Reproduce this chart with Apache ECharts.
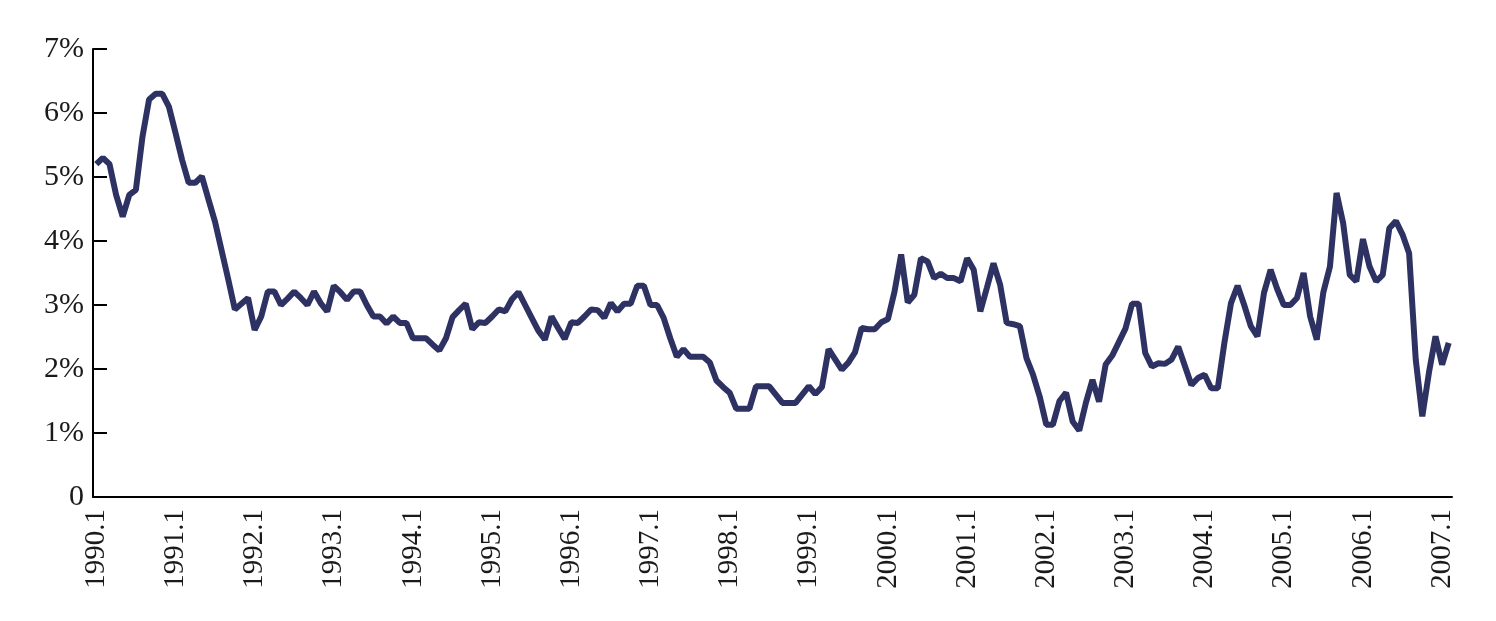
<!DOCTYPE html>
<html>
<head>
<meta charset="utf-8">
<script src="https://cdn.jsdelivr.net/npm/echarts@6/dist/echarts.min.js"></script>
<style>
  html, body { margin: 0; padding: 0; background: #fff; }
  #chart { width: 1496px; height: 621px; }
</style>
</head>
<body>
<div id="chart"></div>
<script>
// monthly rate, %
var v1990 = [5.2, 5.3, 5.2, 4.72, 4.38, 4.72, 4.8, 5.63, 6.21, 6.3, 6.3, 6.1];
var v1991 = [5.69, 5.27, 4.91, 4.91, 5.01, 4.65, 4.3, 3.85, 3.4, 2.93, 3.02, 3.11];
var v1992 = [2.61, 2.82, 3.21, 3.21, 3.0, 3.1, 3.21, 3.11, 3.0, 3.21, 3.03, 2.9];
var v1993 = [3.3, 3.2, 3.08, 3.21, 3.21, 3.0, 2.82, 2.82, 2.71, 2.82, 2.72, 2.72];
var v1994 = [2.48, 2.48, 2.48, 2.38, 2.29, 2.48, 2.81, 2.92, 3.02, 2.62, 2.73, 2.72];
var v1995 = [2.82, 2.93, 2.9, 3.09, 3.2, 3.0, 2.8, 2.6, 2.46, 2.82, 2.64, 2.47];
var v1996 = [2.73, 2.72, 2.82, 2.93, 2.92, 2.8, 3.03, 2.9, 3.02, 3.02, 3.3, 3.3];
var v1997 = [3.0, 3.0, 2.8, 2.48, 2.19, 2.31, 2.19, 2.19, 2.19, 2.1, 1.82, 1.72];
var v1998 = [1.63, 1.38, 1.38, 1.38, 1.73, 1.73, 1.73, 1.6, 1.47, 1.47, 1.47, 1.6];
var v1999 = [1.73, 1.61, 1.72, 2.31, 2.15, 1.99, 2.1, 2.26, 2.64, 2.62, 2.62, 2.73];
var v2000 = [2.78, 3.21, 3.79, 3.04, 3.16, 3.73, 3.68, 3.42, 3.49, 3.42, 3.42, 3.37];
var v2001 = [3.73, 3.55, 2.9, 3.27, 3.65, 3.32, 2.72, 2.7, 2.67, 2.17, 1.91, 1.57];
var v2002 = [1.13, 1.13, 1.5, 1.63, 1.18, 1.04, 1.47, 1.83, 1.49, 2.07, 2.21, 2.42];
var v2003 = [2.63, 3.02, 3.02, 2.25, 2.04, 2.09, 2.08, 2.15, 2.35, 2.05, 1.75, 1.86];
var v2004 = [1.91, 1.7, 1.7, 2.41, 3.03, 3.3, 3.0, 2.67, 2.51, 3.19, 3.55, 3.25];
var v2005 = [3.0, 3.0, 3.11, 3.5, 2.82, 2.46, 3.2, 3.6, 4.75, 4.28, 3.47, 3.37];
var v2006 = [4.03, 3.6, 3.37, 3.47, 4.2, 4.31, 4.1, 3.81, 2.15, 1.26, 1.94, 2.51];
var v2007 = [2.07, 2.41];

var yLabels = ['0', '1%', '2%', '3%', '4%', '5%', '6%', '7%'];

var values = [].concat(v1990, v1991, v1992, v1993, v1994, v1995, v1996, v1997,
  v1998, v1999, v2000, v2001, v2002, v2003, v2004, v2005, v2006, v2007);

var months = [];
for (var y = 1990; y <= 2007; y++) {
  for (var m = 1; m <= 12; m++) months.push(y + '.' + m);
}
months = months.slice(0, values.length);

var font = '"Liberation Serif", "Times New Roman", serif';
var myChart = echarts.init(document.getElementById('chart'));
var yearStart = function (index) { return index % 12 === 0; };

option = {
  animation: false,
  grid: { left: 93, right: 44, top: 49, bottom: 124 },
  xAxis: {
    type: 'category',
    data: months,
    boundaryGap: true,
    axisLine: { lineStyle: { color: '#000', width: 2 } },
    axisTick: { inside: true, length: 12, interval: yearStart, lineStyle: { color: '#000', width: 2 } },
    axisLabel: {
      interval: yearStart,
      rotate: 90,
      margin: 12,
      color: '#1a1a1a',
      fontFamily: font,
      fontSize: 29
    },
    splitLine: { show: false }
  },
  yAxis: {
    type: 'value',
    min: 0,
    max: 7,
    interval: 1,
    axisLine: { show: true, lineStyle: { color: '#000', width: 2 } },
    axisTick: { show: true, inside: true, length: 14, lineStyle: { color: '#000', width: 2 } },
    axisLabel: {
      margin: 9,
      color: '#1a1a1a',
      fontFamily: font,
      fontSize: 30,
      formatter: function (v) { return yLabels[Math.round(v)]; }
    },
    splitLine: { show: false }
  },
  series: [{
    type: 'line',
    data: values,
    showSymbol: false,
    lineStyle: { color: '#2e3262', width: 6 }
  }]
};

myChart.setOption(option);
</script>
</body>
</html>
